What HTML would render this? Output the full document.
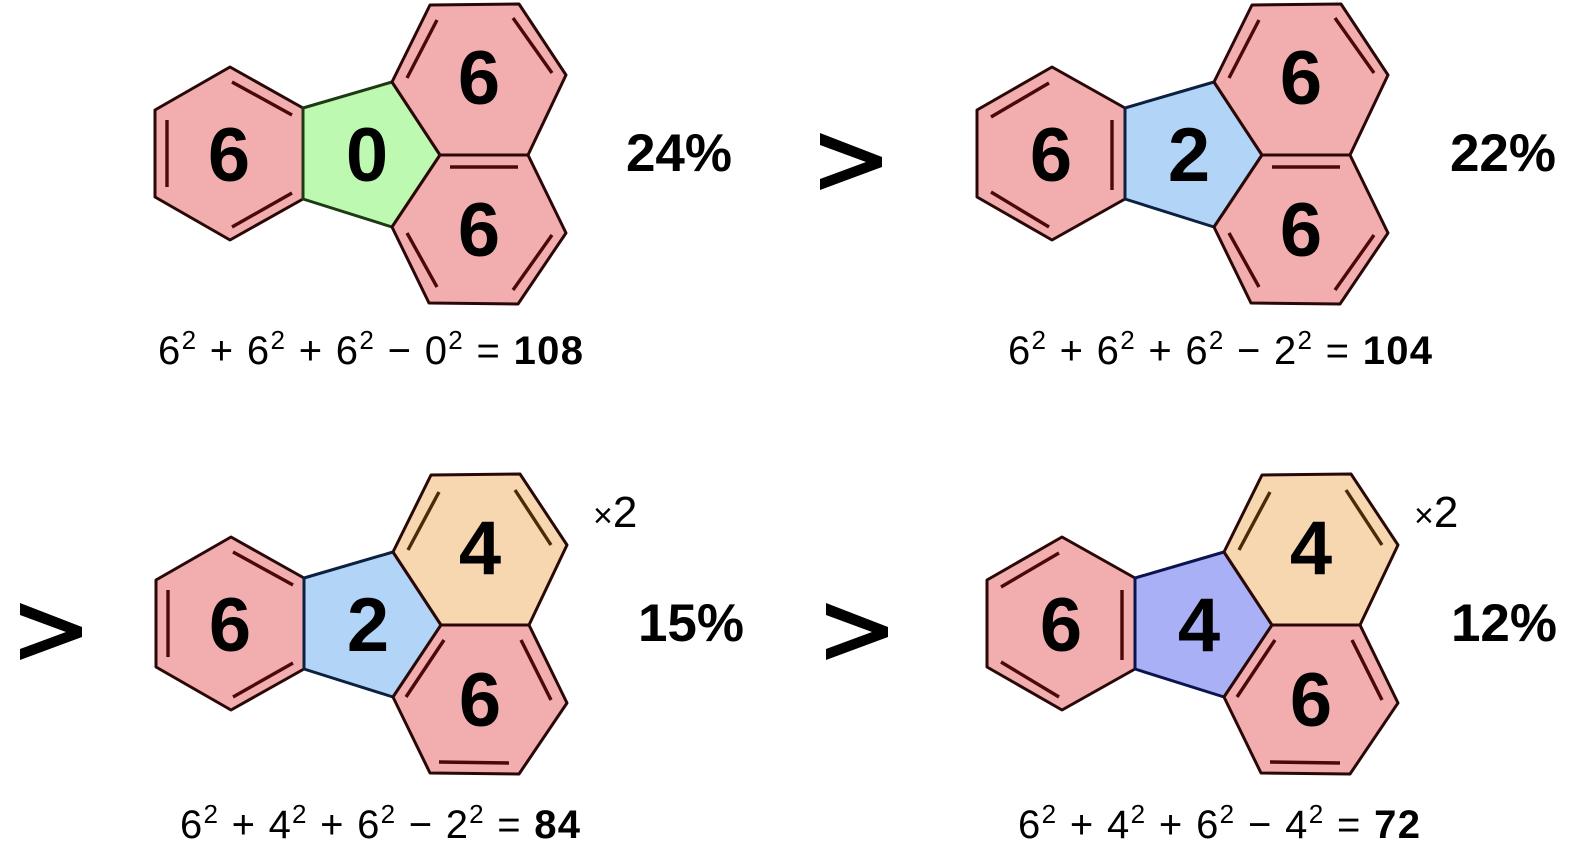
<!DOCTYPE html>
<html><head><meta charset="utf-8"><style>
html,body{margin:0;padding:0;background:#fff;}
svg{display:block;}
.d{font-family:"Liberation Sans",sans-serif;font-weight:bold;font-size:76px;text-anchor:middle;fill:#000;}
.p{font-family:"Liberation Sans",sans-serif;font-weight:bold;font-size:53px;text-anchor:middle;fill:#000;}
.f{font-family:"Liberation Sans",sans-serif;font-size:40px;fill:#000;}
.x{font-family:"Liberation Sans",sans-serif;font-size:44px;fill:#000;}
.h{stroke:#2a0808;stroke-width:3;stroke-linejoin:round;}
.db{stroke:#4a0808;stroke-width:3.4;}
</style></head><body>
<svg width="1570" height="846" viewBox="0 0 1570 846" xmlns="http://www.w3.org/2000/svg">
<defs>
<g id="hl"><polygon class="h" fill="#f2aeae" points="155,110 230,67 303,108 303,199 230,240 155,197"/></g>
<g id="hb"><polygon class="h" fill="#f2aeae" points="440,155 528,155 566,233 518,304 429,303 392,227"/></g>
<g id="dlA" class="db"><line x1="167" y1="120" x2="167" y2="187"/><line x1="232" y1="82" x2="292" y2="115"/><line x1="232" y1="227" x2="292" y2="193"/></g>
<g id="dlB" class="db"><line x1="169" y1="117" x2="227" y2="83"/><line x1="290" y1="120" x2="290" y2="190"/><line x1="169" y1="192" x2="227" y2="227"/></g>
<g id="drA" class="db"><line x1="407" y1="78" x2="437" y2="20"/><line x1="513" y1="18" x2="552" y2="73"/><line x1="450" y1="167" x2="518" y2="167"/><line x1="407" y1="233" x2="437" y2="287"/><line x1="513" y1="290" x2="552" y2="235"/></g>
<g id="drB"><g class="db"><line x1="407" y1="80" x2="438" y2="22" stroke="#4a2a08"/><line x1="514" y1="20" x2="550" y2="75" stroke="#4a2a08"/></g><g class="db"><line x1="405" y1="227" x2="443" y2="170"/><line x1="520" y1="170" x2="550" y2="230"/><line x1="438" y1="292" x2="508" y2="293"/></g></g>
</defs>

<g>
<use href="#hl"/>
<polygon points="303,108 392,82 440,155 392,227 303,199" fill="#bdf9b0" stroke="#1e3a14" stroke-width="3" stroke-linejoin="round"/>
<polygon class="h" fill="#f2aeae" points="392,82 430,5 519,4 566,75 528,155 440,155"/>
<use href="#hb"/>
<use href="#dlA"/><use href="#drA"/>
<text class="d" x="229" y="181">6</text>
<text class="d" x="367" y="181">0</text>
<text class="d" x="479" y="104">6</text>
<text class="d" x="479" y="256">6</text>
</g>

<g transform="translate(822,0)">
<use href="#hl"/>
<polygon points="303,108 392,82 440,155 392,227 303,199" fill="#b2d5f7" stroke="#0c2040" stroke-width="3" stroke-linejoin="round"/>
<polygon class="h" fill="#f2aeae" points="392,82 430,5 519,4 566,75 528,155 440,155"/>
<use href="#hb"/>
<use href="#dlB"/><use href="#drA"/>
<text class="d" x="229" y="181">6</text>
<text class="d" x="367" y="181">2</text>
<text class="d" x="479" y="104">6</text>
<text class="d" x="479" y="256">6</text>
</g>

<g transform="translate(1,470)">
<use href="#hl"/>
<polygon points="303,108 392,82 440,155 392,227 303,199" fill="#b2d5f7" stroke="#0c2040" stroke-width="3" stroke-linejoin="round"/>
<polygon class="h" fill="#f7d7b0" stroke="#3a2208" points="392,82 430,5 519,4 566,75 528,155 440,155"/>
<use href="#hb"/>
<use href="#dlA"/><use href="#drB"/>
<text class="d" x="229" y="181">6</text>
<text class="d" x="367" y="181">2</text>
<text class="d" x="479" y="104">4</text>
<text class="d" x="479" y="256">6</text>
</g>

<g transform="translate(832,470)">
<use href="#hl"/>
<polygon points="303,108 392,82 440,155 392,227 303,199" fill="#aab0f5" stroke="#0c1450" stroke-width="3" stroke-linejoin="round"/>
<polygon class="h" fill="#f7d7b0" stroke="#3a2208" points="392,82 430,5 519,4 566,75 528,155 440,155"/>
<use href="#hb"/>
<use href="#dlB"/><use href="#drB"/>
<text class="d" x="229" y="181">6</text>
<text class="d" x="367" y="181">4</text>
<text class="d" x="479" y="104">4</text>
<text class="d" x="479" y="256">6</text>
</g>

<text class="p" x="679" y="171">24%</text>
<text class="p" x="1503" y="171">22%</text>
<text class="p" x="691" y="641">15%</text>
<text class="p" x="1504" y="641">12%</text>

<polygon points="820,133 882,157 882,167 820,190 820,179 866,162 820,145" fill="#000"/>
<polygon points="20,603 82,627 82,637 20,660 20,649 66,632 20,615" fill="#000"/>
<polygon points="826,603 888,627 888,637 826,660 826,649 872,632 826,615" fill="#000"/>

<text class="x" x="593" y="527"><tspan font-size="34">×</tspan>2</text>
<text class="x" x="1414" y="527"><tspan font-size="34">×</tspan>2</text>

<text class="f" x="158" y="364" textLength="425" lengthAdjust="spacing">6<tspan dy="-15" font-size="26">2</tspan><tspan dy="15"> + 6</tspan><tspan dy="-15" font-size="26">2</tspan><tspan dy="15"> + 6</tspan><tspan dy="-15" font-size="26">2</tspan><tspan dy="15"> − 0</tspan><tspan dy="-15" font-size="26">2</tspan><tspan dy="15"> = </tspan><tspan font-weight="bold">108</tspan></text>
<text class="f" x="1008" y="364" textLength="424" lengthAdjust="spacing">6<tspan dy="-15" font-size="26">2</tspan><tspan dy="15"> + 6</tspan><tspan dy="-15" font-size="26">2</tspan><tspan dy="15"> + 6</tspan><tspan dy="-15" font-size="26">2</tspan><tspan dy="15"> − 2</tspan><tspan dy="-15" font-size="26">2</tspan><tspan dy="15"> = </tspan><tspan font-weight="bold">104</tspan></text>
<text class="f" x="180" y="838" textLength="400" lengthAdjust="spacing">6<tspan dy="-15" font-size="26">2</tspan><tspan dy="15"> + 4</tspan><tspan dy="-15" font-size="26">2</tspan><tspan dy="15"> + 6</tspan><tspan dy="-15" font-size="26">2</tspan><tspan dy="15"> − 2</tspan><tspan dy="-15" font-size="26">2</tspan><tspan dy="15"> = </tspan><tspan font-weight="bold">84</tspan></text>
<text class="f" x="1018" y="838" textLength="402" lengthAdjust="spacing">6<tspan dy="-15" font-size="26">2</tspan><tspan dy="15"> + 4</tspan><tspan dy="-15" font-size="26">2</tspan><tspan dy="15"> + 6</tspan><tspan dy="-15" font-size="26">2</tspan><tspan dy="15"> − 4</tspan><tspan dy="-15" font-size="26">2</tspan><tspan dy="15"> = </tspan><tspan font-weight="bold">72</tspan></text>
</svg>
</body></html>
